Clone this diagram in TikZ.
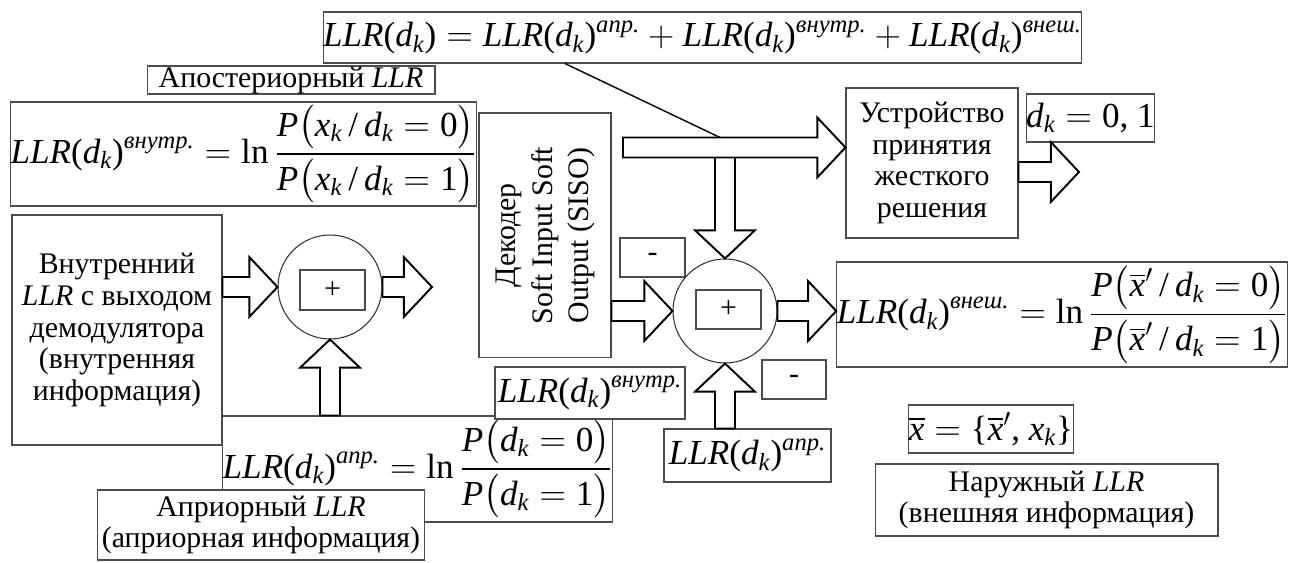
\documentclass[tikz,border=0pt]{standalone}
\usepackage{amsmath}
\usepackage{exscale}
\usepackage{fontspec}
\setmainfont{Liberation Serif}
\usepackage{graphicx}
\usepackage{tikz}
\usetikzlibrary{calc}

\newcommand{\lblfont}{\fontsize{17}{18}\selectfont}
\newcommand{\frmfont}{\fontsize{20}{24}\selectfont}
\newcommand{\itl}[1]{\text{\itshape #1}}
\newcommand{\upr}[1]{\text{\upshape #1}}
\newcommand{\lnop}{\mathop{\upr{ln}}\nolimits}
\newcommand{\sls}{\,\upr{/}\,}
\newcommand{\LLRdk}{\itl{LLR}\upr{(}\itl{d}_{\itl{k}}\upr{)}}
\newcommand{\fsw}{5.7pt}
\newcommand{\fhw}{17pt}
\newcommand{\fhl}{16pt}

\begin{document}
\begin{tikzpicture}[
  x=0.02cm, y=-0.02cm,
  box/.style={draw=black!70, line width=0.6pt, fill=white, inner sep=0pt, align=center, font=\lblfont},
  frm/.style={draw=black!70, line width=0.6pt, fill=white, inner sep=0pt, font=\frmfont},
  sum/.style={draw=black!80, line width=0.6pt, fill=white, circle, minimum size=2.08cm, inner sep=0pt},
  fat/.style={draw=black, line width=1.1pt, fill=white, line join=miter,
    to path={let \p1=($(\tikztotarget)-(\tikztostart)$), \n1={atan2(\y1,\x1)}, \n2={veclen(\x1,\y1)} in
      ([shift={(\tikztostart)},rotate=\n1]0pt,\fsw)
      -- ([shift={(\tikztostart)},rotate=\n1]\n2-\fhl,\fsw)
      -- ([shift={(\tikztostart)},rotate=\n1]\n2-\fhl,\fhw)
      -- (\tikztotarget)
      -- ([shift={(\tikztostart)},rotate=\n1]\n2-\fhl,-\fhw)
      -- ([shift={(\tikztostart)},rotate=\n1]\n2-\fhl,-\fsw)
      -- ([shift={(\tikztostart)},rotate=\n1]0pt,-\fsw)
      -- cycle}}
]
\useasboundingbox (0,0) rectangle (1289,563);

\node[frm, minimum width=15.06cm, minimum height=1.02cm] (sumf) at (702.5,37.5)
  {$\LLRdk = \LLRdk^{\itl{апр.}} + \LLRdk^{\itl{внутр.}} + \LLRdk^{\itl{внеш.}}$};
\node[box, minimum width=5.76cm, minimum height=0.56cm] (apost) at (291,80) {Апостериорный \textit{LLR}};
\node[frm, minimum width=9.26cm, minimum height=2.08cm] (intf) at (243.5,154)
  {$\LLRdk^{\itl{внутр.}} = \lnop\dfrac{\itl{P}\bigl(\itl{x}_{\itl{k}}\sls\itl{d}_{\itl{k}} = \upr{0}\bigr)}{\itl{P}\bigl(\itl{x}_{\itl{k}}\sls\itl{d}_{\itl{k}} = \upr{1}\bigr)}$};

\node[box, minimum width=4.2cm, minimum height=4.6cm] (lbox) at (117,330)
  {Внутренний\\\textit{LLR} с выходом\\демодулятора\\(внутренняя\\информация)};
\node[sum] (circL) at (330,287) {};
\node[box, minimum width=1.3cm, minimum height=0.8cm] (plusL) at (332.5,290) {+};
\node[frm, minimum width=7.58cm, minimum height=2.12cm] (aprf) at (417.5,469)
  {$\LLRdk^{\itl{апр.}} = \lnop\dfrac{\itl{P}\bigl(\itl{d}_{\itl{k}} = \upr{0}\bigr)}{\itl{P}\bigl(\itl{d}_{\itl{k}} = \upr{1}\bigr)}$};
\node[box, minimum width=6.56cm, minimum height=1.4cm] (aprbox) at (261,525)
  {Априорный \textit{LLR}\\(априорная информация)};

\node[box, minimum width=2.64cm, minimum height=4.9cm] (dec) at (545,235.5)
  {\rotatebox{90}{\fontsize{17}{20.8}\selectfont\begin{tabular}{@{}c@{}}Декодер\\Soft Input Soft\\Output (SISO)\end{tabular}}};
\node[box, minimum width=1.3cm, minimum height=0.78cm] (minusL) at (652.5,257.5) {-};
\node[sum] (circR) at (725,311) {};
\node[box, minimum width=1.3cm, minimum height=0.78cm] (plusR) at (728.5,309.5) {+};
\node[frm, minimum width=3.8cm, minimum height=1.04cm] (intsm) at (590,393) {$\LLRdk^{\itl{внутр.}}$};
\node[frm, minimum width=3.34cm, minimum height=1.06cm] (aprsm) at (747.5,455.5) {$\LLRdk^{\itl{апр.}}$};
\node[box, minimum width=1.28cm, minimum height=0.78cm] (minusR) at (794,379.5) {-};

\node[box, minimum width=3.44cm, minimum height=3cm] (dev) at (932,163)
  {Устройство\\принятия\\жесткого\\решения};
\node[frm, minimum width=2.46cm, minimum height=0.96cm] (dk) at (1090.5,118) {$\itl{d}_{\itl{k}} = \upr{0, 1}$};
\node[frm, minimum width=8.92cm, minimum height=2.1cm] (extf) at (1062,314.5)
  {$\LLRdk^{\itl{внеш.}} = \lnop\dfrac{\itl{P}\bigl(\overline{\itl{x}}'\sls\itl{d}_{\itl{k}} = \upr{0}\bigr)}{\itl{P}\bigl(\overline{\itl{x}}'\sls\itl{d}_{\itl{k}} = \upr{1}\bigr)}$};
\node[frm, minimum width=3.24cm, minimum height=0.96cm] (xbar) at (991,429)
  {$\overline{\itl{x}} = \upr{\{}\overline{\itl{x}}'\upr{,}\ \itl{x}_{\itl{k}}\upr{\}}$};
\node[box, minimum width=6.86cm, minimum height=1.44cm] (outer) at (1046.5,500)
  {Наружный \textit{LLR}\\(внешняя информация)};

\coordinate (lout) at (432,287);
\coordinate (tstart) at (623,147.5);
\coordinate (tap) at (720,137.5);
\coordinate (dout) at (1079,172);

\draw[fat] (lbox.east |- circL.west) to (circL.west);
\draw[fat] (circL.east) to (lout);
\draw[fat] (circL.south |- aprf.north) to (circL.south);
\draw[fat] (circR.north |- tstart) to (circR.north);
\draw[fat] (tstart) to (dev.west |- tstart);
\draw[fat] (dec.east |- circR.west) to (circR.west);
\draw[fat] (circR.east) to (extf.west |- circR.east);
\draw[fat] (circR.south |- aprsm.north) to (circR.south);
\draw[fat] (dev.east |- dout) to (dout);
\draw[line width=0.8pt] ($(sumf.south west)!0.319!(sumf.south east)$) -- (tap);
\end{tikzpicture}
\end{document}
